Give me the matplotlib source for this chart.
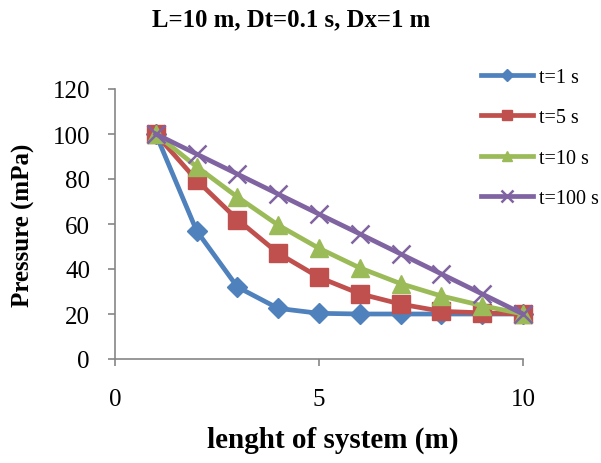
import matplotlib
matplotlib.use("Agg")
import matplotlib.pyplot as plt

# valori
x = [1, 2, 3, 4, 5, 6, 7, 8, 9, 10]
p_t1 = [100, 57, 32, 22.5, 20.3, 20, 20, 20, 20, 20]
p_t5 = [100, 79.5, 62, 47, 36.3, 29, 24.4, 21.2, 20.5, 20]
p_t10 = [100, 85.5, 72, 59.5, 49.2, 40.5, 33.5, 28, 23.7, 20]
p_t100 = [100, 91.1, 82.2, 73.3, 64.4, 55.6, 46.7, 37.8, 28.9, 20]

series = [
    ("t=1 s", p_t1, "#4F81BD", "D", 10.5),
    ("t=5 s", p_t5, "#C0504D", "s", 13),
    ("t=10 s", p_t10, "#9BBB59", "^", 13),
    ("t=100 s", p_t100, "#8064A2", "x", 13.5),
]

plt.rcParams["font.family"] = ["Liberation Serif", "DejaVu Serif"]

fig = plt.figure(figsize=(6.01, 4.64), dpi=100)
ax = fig.add_axes([115 / 601, 1 - 360 / 464, 408 / 601, 270 / 464])

for label, vals, col, mk, ms in series:
    ax.plot(x, vals, color=col, marker=mk, markersize=ms, linewidth=3.4,
            markeredgewidth=1.8 if mk == "x" else 1, label=label, clip_on=False)

ax.set_xlim(0, 10)
ax.set_ylim(0, 120)
ax.set_xticks([0, 5, 10])
ax.set_yticks(range(0, 121, 20))
ax.tick_params(labelsize=18, color="#868686", length=5, width=1.2)
ax.tick_params(axis="x", pad=16)
ax.tick_params(axis="y", pad=13)
for s in ["top", "right"]:
    ax.spines[s].set_visible(False)
for s in ["left", "bottom"]:
    ax.spines[s].set_color("#868686")
    ax.spines[s].set_linewidth(1.2)

fig.text(23 / 601, 1 - 225 / 464, "Pressure (mPa)", fontsize=18,
         fontweight="bold", ha="center", va="center", rotation=90)
fig.text(333 / 601, 1 - 440 / 464, "lenght of system (m)", fontsize=21,
         fontweight="bold", ha="center", va="center")
fig.text(291 / 601, 1 - 20 / 464, "L=10 m, Dt=0.1 s, Dx=1 m", fontsize=17.8,
         fontweight="bold", ha="center", va="center")

leg = fig.legend(loc="upper left", bbox_to_anchor=(473 / 601, 1 - 61 / 464),
                 frameon=False, fontsize=14.5, markerscale=0.6, handlelength=2.6,
                 labelspacing=1.05, handletextpad=0.3, borderaxespad=0)

fig.savefig("out.png", dpi=100)
